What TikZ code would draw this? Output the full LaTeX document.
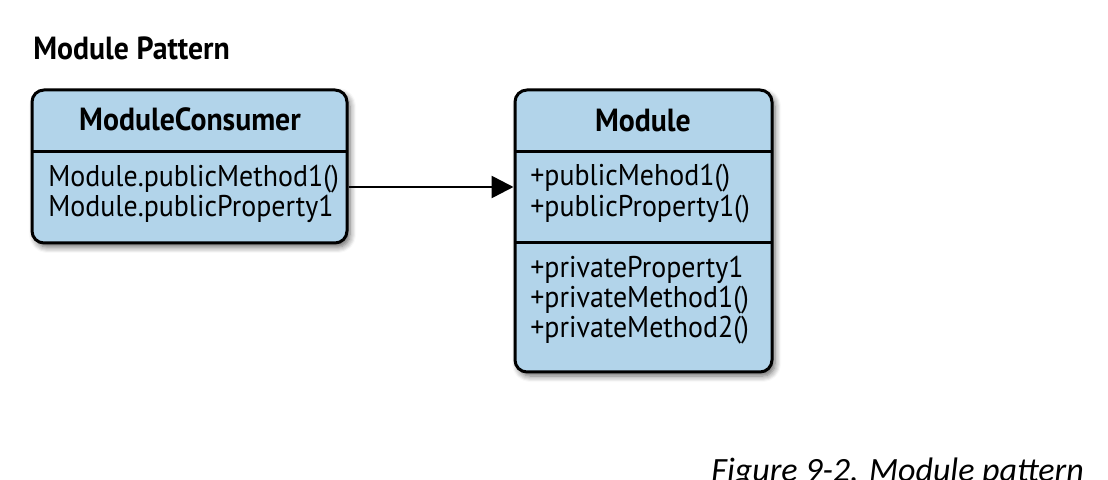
\documentclass[tikz,border=0pt]{standalone}
\usepackage{fontspec}
\setmainfont{PT Sans}[FakeStretch=0.93]
\newfontfamily\capfont{Carlito}
\usetikzlibrary{arrows.meta,shadows.blur}
\definecolor{boxblue}{RGB}{178,212,234}
\begin{document}
\begin{tikzpicture}[x=0.5pt, y=-0.5pt,
    classbox/.style={draw, line width=1.5pt, fill=boxblue, rounded corners=6pt,
      blur shadow={shadow xshift=1.5pt, shadow yshift=-2pt, shadow blur steps=6, shadow blur radius=3pt, shadow opacity=60}},
    divider/.style={line width=1.5pt},
    head/.style={anchor=base, font=\bfseries\fontsize{16}{19}\selectfont, inner sep=0pt},
    member/.style={anchor=base west, font=\fontsize{15}{18}\selectfont, inner sep=0pt},
    link/.style={line width=1.3pt, -{Triangle[length=11pt, width=11pt]}}]
  \useasboundingbox (0,0) rectangle (1108,480);
  % Title
  \node[anchor=base west, font=\bfseries\fontsize{16}{19}\selectfont, inner sep=0pt] (title) at (33,60) {Module Pattern};
  % Boxes
  \node[classbox, minimum width=157.5pt, minimum height=76.5pt] (consumer) at (189.5,166.5) {};
  \node[classbox, minimum width=128.5pt, minimum height=141pt] (module) at (643.5,231) {};
  % Compartments
  \draw[divider] (32,152) -- (347,152);
  \draw[divider] (515,152) -- (772,152);
  \draw[divider] (515,243) -- (772,243);
  % Class names
  \node[head] (consumername) at (190,131) {ModuleConsumer};
  \node[head] (modulename) at (643,132) {Module};
  % Members
  \foreach \y/\txt in {187/Module.publicMethod1(), 217/Module.publicProperty1}
    \node[member] (c\y) at (48,\y) {\txt};
  \foreach \y/\txt in {186/+publicMehod1(), 217/+publicProperty1(), 278/+privateProperty1, 308/+privateMethod1(), 338/+privateMethod2()}
    \node[member] (m\y) at (530,\y) {\txt};
  % Arrow
  \coordinate (arrowrow) at (430,187);
  \draw[link] (consumer.east |- arrowrow) -- (module.west |- arrowrow);
  % Caption
  \node[anchor=base west, font=\capfont\itshape\fontsize{17}{20}\selectfont, inner sep=0pt] (caption) at (711,481) {Figure 9-2. Module pattern};
\end{tikzpicture}
\end{document}
